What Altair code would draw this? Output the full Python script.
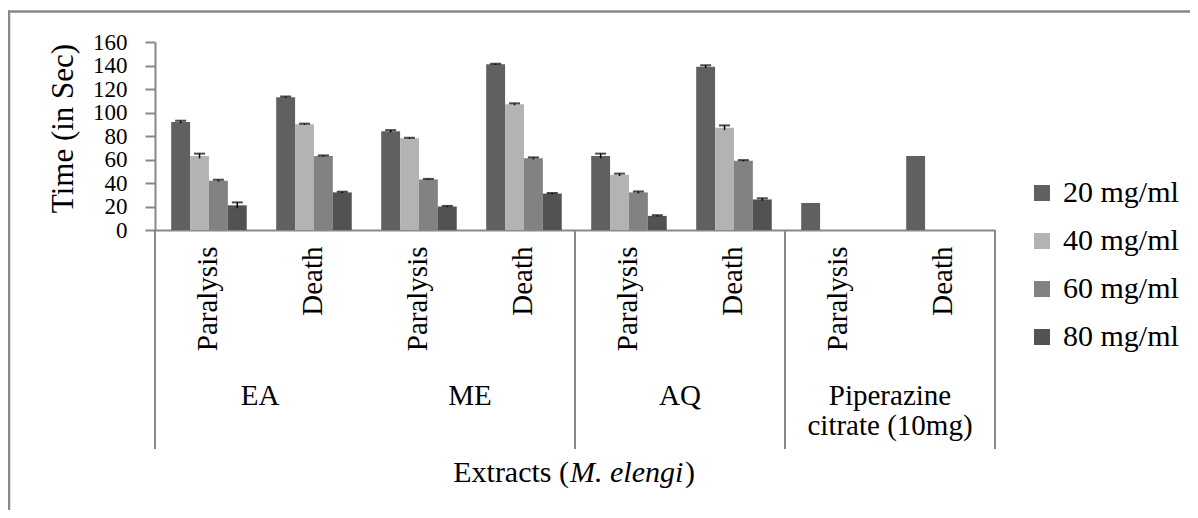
import altair as alt
import pandas as pd

FONT = "Liberation Serif"
GRAY = "#888888"

groups = ["EA", "ME", "AQ", "Piperazine citrate (10mg)"]
group_labels = ["EA", "ME", "AQ", "Piperazine\ncitrate (10mg)"]
events = ["Paralysis", "Death"]
concs = ["20 mg/ml", "40 mg/ml", "60 mg/ml", "80 mg/ml"]
colors = ["#606060", "#b3b3b3", "#828282", "#525252"]
y_ticks = [0, 20, 40, 60, 80, 100, 120, 140, 160]

ea_paralysis = [92, 63, 42, 21]
ea_death = [113, 90, 63, 32]
me_paralysis = [84, 78, 43, 20]
me_death = [141, 107, 61, 31]
aq_paralysis = [63, 47, 32, 12]
aq_death = [139, 87, 59, 26]
pip_paralysis = [23]
pip_death = [63]

ea_paralysis_err = [1, 2, 0.8, 2.5]
ea_death_err = [0.6, 0.5, 0.5, 0.6]
me_paralysis_err = [1, 0.5, 0.5, 0.5]
me_death_err = [0.5, 0.8, 0.8, 0.5]
aq_paralysis_err = [2, 1, 0.8, 0.6]
aq_death_err = [1.2, 2, 0.5, 1]
pip_paralysis_err = [0]
pip_death_err = [0]

series = [
    ("EA", "Paralysis", ea_paralysis, ea_paralysis_err),
    ("EA", "Death", ea_death, ea_death_err),
    ("ME", "Paralysis", me_paralysis, me_paralysis_err),
    ("ME", "Death", me_death, me_death_err),
    ("AQ", "Paralysis", aq_paralysis, aq_paralysis_err),
    ("AQ", "Death", aq_death, aq_death_err),
    ("Piperazine citrate (10mg)", "Paralysis", pip_paralysis, pip_paralysis_err),
    ("Piperazine citrate (10mg)", "Death", pip_death, pip_death_err),
]

keys = [f"{g}|{e}" for g in groups for e in events]

rows = []
for g, e, vals, errs in series:
    for c, v, er in zip(concs, vals, errs):
        rows.append({"key": f"{g}|{e}", "conc": c, "value": v,
                     "lo": v - er, "hi": v + er, "has_err": er > 0})
df = pd.DataFrame(rows)
df_err = df[df["has_err"]]

xscale = alt.Scale(domain=keys, paddingInner=0, paddingOuter=0)
xaxis = alt.Axis(title=None, labelAngle=270, labelFontSize=29, labelFont=FONT,
                 labelPadding=16, ticks=False, domainColor=GRAY,
                 domainWidth=2, labelColor="black",
                 labelExpr="split(datum.label, '|')[1]")
xoff = alt.XOffset("conc:N", scale=alt.Scale(domain=concs, paddingInner=0,
                                              paddingOuter=0.78, align=0.55))
yscale = alt.Scale(domain=[0, 160], nice=False)
yaxis = alt.Axis(values=y_ticks, tickCount=9, tickSize=10,
                 tickColor=GRAY, tickWidth=2, domainColor=GRAY,
                 domainWidth=2, labelFontSize=23, labelFont=FONT,
                 labelPadding=18, grid=False, labelOverlap=False,
                 labelColor="black", title="Time (in Sec)", titleFont=FONT,
                 titleFontSize=31, titleFontWeight="normal", titleColor="black",
                 titleAngle=270, titleX=-92, titleY=86,
                 titleAlign="center", titleBaseline="middle")


def X(**kw):
    return alt.X("key:N", scale=xscale, sort=keys, axis=xaxis, **kw)


bars = alt.Chart(df).mark_bar().encode(
    x=X(),
    xOffset=xoff,
    y=alt.Y("value:Q", scale=yscale, axis=yaxis),
    color=alt.Color("conc:N", scale=alt.Scale(domain=concs, range=colors),
                    legend=alt.Legend(title=None, orient="none", legendX=872,
                                      legendY=136, symbolType="square",
                                      symbolSize=256, labelFontSize=30,
                                      labelFont=FONT, rowPadding=18,
                                      labelOffset=6, symbolStrokeWidth=0,
                                      padding=0, labelColor="black")),
)

stems = alt.Chart(df_err).mark_rule(color="black", strokeWidth=1.5).encode(
    x=X(),
    xOffset=xoff,
    y=alt.Y("lo:Q", scale=yscale, axis=yaxis),
    y2="hi:Q",
)
caps = alt.Chart(df_err).mark_tick(color="black", thickness=2, size=11).encode(
    x=X(),
    xOffset=xoff,
    y=alt.Y("hi:Q", scale=yscale, axis=yaxis),
)

sep_left = pd.DataFrame({"key": [f"{g}|Paralysis" for g in ["EA", "AQ", "Piperazine citrate (10mg)"]]})
sep_right = pd.DataFrame({"key": ["Piperazine citrate (10mg)|Death"]})
seps1 = alt.Chart(sep_left).mark_rule(color=GRAY, strokeWidth=2).encode(
    x=X(bandPosition=0), y=alt.value(188), y2=alt.value(407))
seps2 = alt.Chart(sep_right).mark_rule(color=GRAY, strokeWidth=2).encode(
    x=X(bandPosition=1), y=alt.value(188), y2=alt.value(407))

glab = pd.DataFrame({"key": [f"{g}|Paralysis" for g in groups], "label": group_labels})
group_text = alt.Chart(glab).mark_text(font=FONT, fontSize=29, lineBreak="\n",
                                       lineHeight=30, baseline="alphabetic",
                                       align="center", color="black").encode(
    x=X(bandPosition=1), y=alt.value(363), text="label:N")

t1 = alt.Chart(pd.DataFrame({"t": ["Extracts ("]})).mark_text(
    font=FONT, fontSize=30, align="right", baseline="alphabetic", color="black"
).encode(x=alt.value(414), y=alt.value(440), text="t:N")
t2 = alt.Chart(pd.DataFrame({"t": ["M. elengi"]})).mark_text(
    font=FONT, fontSize=30, fontStyle="italic", align="left",
    baseline="alphabetic", color="black"
).encode(x=alt.value(415), y=alt.value(440), text="t:N")
t3 = alt.Chart(pd.DataFrame({"t": [")"]})).mark_text(
    font=FONT, fontSize=30, align="left", baseline="alphabetic", color="black"
).encode(x=alt.value(530), y=alt.value(440), text="t:N")

border_top = alt.Chart(pd.DataFrame({"a": [0]})).mark_rule(
    color=GRAY, strokeWidth=2.5).encode(
    x=alt.value(-147), x2=alt.value(1035), y=alt.value(-30.5))
border_left = alt.Chart(pd.DataFrame({"a": [0]})).mark_rule(
    color=GRAY, strokeWidth=2.5).encode(
    x=alt.value(-146), y=alt.value(-31.5), y2=alt.value(468))

chart = alt.layer(
    border_top, border_left, seps1, seps2, bars, stems, caps, group_text, t1, t2, t3
).properties(
    width=840, height=188,
    padding={"left": 147, "top": 34, "right": 195, "bottom": 280},
    autosize="none",
).configure_view(stroke=None).configure_axis(
    labelFont=FONT, titleFont=FONT
).configure_legend(labelFont=FONT).configure_text(font=FONT)

chart.save("out.html", embed_options={"renderer": "svg", "actions": False})
